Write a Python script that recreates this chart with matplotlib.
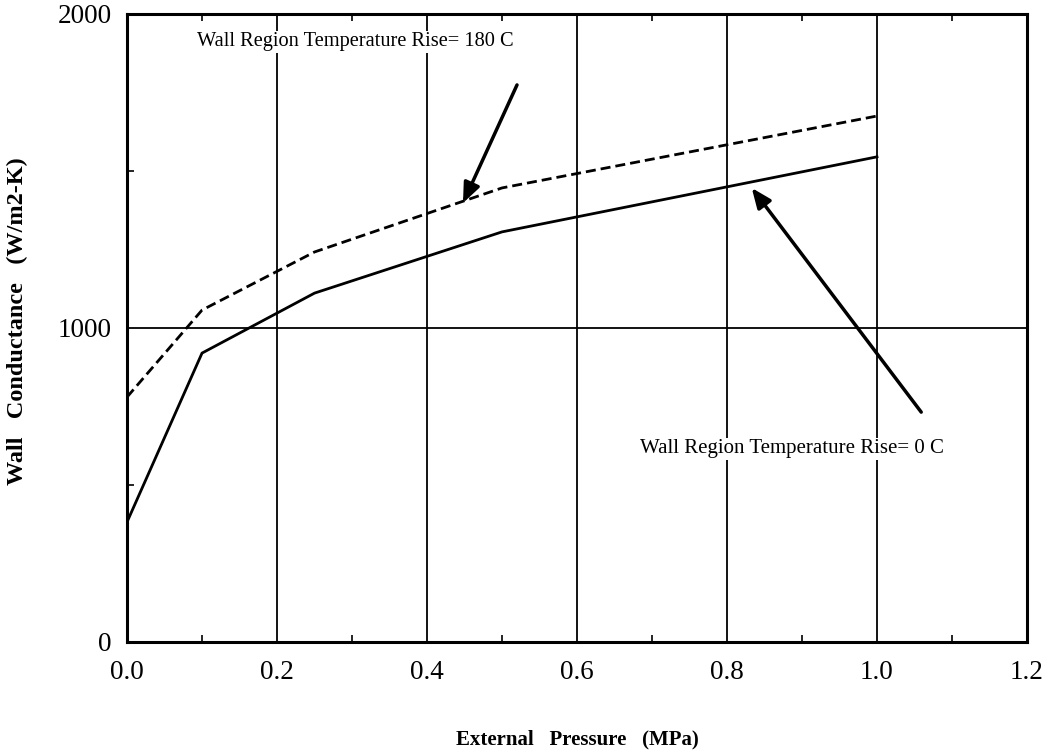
import matplotlib
matplotlib.use("Agg")
import matplotlib.pyplot as plt
from matplotlib.ticker import MultipleLocator

pressure = [0.0, 0.1, 0.25, 0.5, 1.0]
cond_0C = [382, 920, 1111, 1306, 1545]
cond_180C = [780, 1057, 1242, 1446, 1675]

x_ticks = [0.0, 0.2, 0.4, 0.6, 0.8, 1.0, 1.2]
x_ticklabels = ["0.0", "0.2", "0.4", "0.6", "0.8", "1.0", "1.2"]
y_ticks = [0, 1000, 2000]
y_ticklabels = ["0", "1000", "2000"]

plt.rcParams['font.family'] = ['Liberation Serif', 'DejaVu Serif']

W, H = 1056, 755
fig = plt.figure(figsize=(W / 100, H / 100), dpi=100)
ax = fig.add_axes([0.1203, 0.1497, 0.9725 - 0.1203, 0.9815 - 0.1497])

ax.plot(pressure, cond_0C, color='black', lw=2.0, solid_joinstyle='miter')
ax.plot(pressure, cond_180C, color='black', lw=2.0, linestyle=(0, (3.6, 1.8)))

ax.set_xlim(0, 1.2)
ax.set_ylim(0, 2000)
ax.set_xticks(x_ticks)
ax.set_xticklabels(x_ticklabels)
ax.set_yticks(y_ticks)
ax.set_yticklabels(y_ticklabels)
ax.xaxis.set_minor_locator(MultipleLocator(0.1))
ax.yaxis.set_minor_locator(MultipleLocator(500))
ax.tick_params(which='both', direction='in', top=True, right=False, labelsize=19.5)
ax.tick_params(which='major', length=0)
ax.tick_params(axis='x', which='major', pad=13)
ax.tick_params(axis='y', which='major', pad=11)
ax.tick_params(which='minor', length=5, width=1.2)

for x in x_ticks[1:-1]:
    ax.axvline(x, color='black', lw=1.3, zorder=0)
ax.axhline(1000, color='black', lw=1.3, zorder=0)

for s in ax.spines.values():
    s.set_linewidth(2.2)

ax.set_xlabel("External   Pressure   (MPa)", fontsize=15, fontweight='bold', va='center')
ax.xaxis.set_label_coords(0.5, (642 - 740) / 628)
ax.set_ylabel("Wall   Conductance   (W/m2-K)", fontsize=17.5, fontweight='bold',
              va='center', ha='center')
ax.yaxis.set_label_coords((17 - 127) / 900, (642 - 321) / 628)

ax.text(0.093, 1911, "Wall Region Temperature Rise= 180 C", fontsize=14.7,
        va='center', ha='left', bbox=dict(facecolor='white', edgecolor='none', pad=1))
ax.text(0.684, 615, "Wall Region Temperature Rise= 0 C", fontsize=15,
        va='center', ha='left', bbox=dict(facecolor='white', edgecolor='none', pad=1))

ax.annotate("", xy=(0.448, 1398), xytext=(0.52, 1774),
            arrowprops=dict(arrowstyle='-|>,head_length=1.2,head_width=0.5',
                            color='black', lw=2.5, shrinkA=0, shrinkB=0))
ax.annotate("", xy=(0.833, 1446), xytext=(1.059, 732),
            arrowprops=dict(arrowstyle='-|>,head_length=1.2,head_width=0.5',
                            color='black', lw=2.5, shrinkA=0, shrinkB=0))

fig.savefig("out.png", dpi=100)
